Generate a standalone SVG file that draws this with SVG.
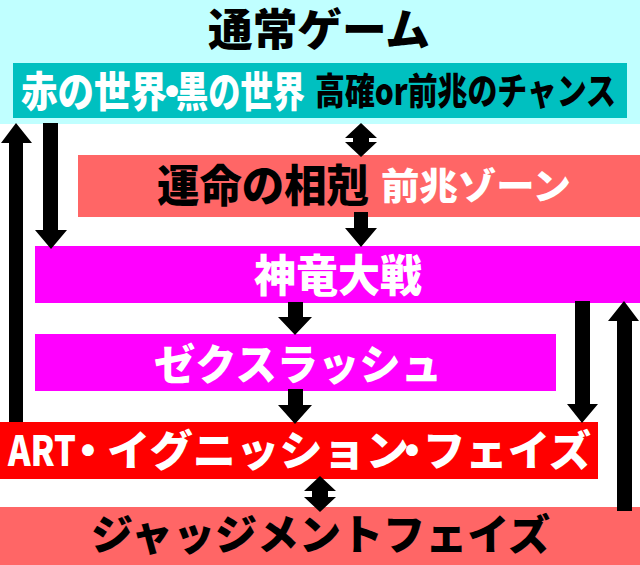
<svg xmlns="http://www.w3.org/2000/svg" width="640" height="565" viewBox="0 0 640 565">
<style>
text{font-family:"Noto Sans CJK JP","Noto Sans",sans-serif;font-weight:900;}
.w{fill:#ffffff;}
.b{fill:#000000;}
.arrow{fill:#000000;}
</style>
<rect width="640" height="565" fill="#ffffff"/>
<g id="normal-game">
<rect x="0" y="0" width="640" height="124" fill="#c0ffff"/>
<text class="b" x="208" y="46" font-size="44" textLength="222" lengthAdjust="spacingAndGlyphs">通常ゲーム</text>
</g>
<g id="world">
<rect x="13" y="63" width="614" height="55" fill="#00c0c0"/>
<text class="w" y="107" font-size="42"><tspan x="21" textLength="146" lengthAdjust="spacingAndGlyphs">赤の世界</tspan><tspan x="151">・</tspan><tspan x="176" textLength="129" lengthAdjust="spacingAndGlyphs">黒の世界</tspan></text>
<text class="b" x="315" y="105" font-size="37" textLength="301" lengthAdjust="spacingAndGlyphs">高確or前兆のチャンス</text>
</g>
<g id="destiny">
<rect x="78" y="155" width="562" height="62" fill="#ff6666"/>
<text class="b" x="157" y="202" font-size="44" textLength="212" lengthAdjust="spacingAndGlyphs">運命の相剋</text>
<text class="w" x="381" y="200" font-size="37" textLength="190" lengthAdjust="spacingAndGlyphs">前兆ゾーン</text>
</g>
<g id="shinryu">
<rect x="35" y="246" width="605" height="57" fill="#ff00ff"/>
<text class="w" x="254" y="292" font-size="44" textLength="168" lengthAdjust="spacingAndGlyphs">神竜大戦</text>
</g>
<g id="zex">
<rect x="35" y="334" width="521" height="57" fill="#ff00ff"/>
<text class="w" x="154" y="380" font-size="42" textLength="288" lengthAdjust="spacingAndGlyphs">ゼクスラッシュ</text>
</g>
<g id="art">
<rect x="0" y="422" width="598" height="57" fill="#ff0000"/>
<text class="w" y="466" font-size="42"><tspan x="8" textLength="68" lengthAdjust="spacingAndGlyphs">ART</tspan><tspan x="67">・</tspan><tspan x="107" textLength="302" lengthAdjust="spacingAndGlyphs">イグニッション</tspan><tspan x="391">・</tspan><tspan x="423" textLength="168" lengthAdjust="spacingAndGlyphs">フェイズ</tspan></text>
</g>
<g id="judgment">
<rect x="0" y="507" width="640" height="58" fill="#ff6666"/>
<text class="b" x="91" y="550" font-size="42" textLength="459" lengthAdjust="spacingAndGlyphs">ジャッジメントフェイズ</text>
</g>
<g id="connectors">
<path class="arrow" d="M16,123 L32,143 L23,143 L23,422 L9,422 L9,143 L1,143 Z"/>
<path class="arrow" d="M43,123 L58,123 L58,230 L67,230 L51,249 L35,230 L43,230 Z"/>
<path class="arrow" d="M361,123 L377,138 L369,138 L369,142 L377,142 L361,157 L345,142 L353,142 L353,138 L345,138 Z"/>
<path class="arrow" d="M354,212 L368,212 L368,228 L377,228 L361,247 L345,228 L354,228 Z"/>
<path class="arrow" d="M288,302 L303,302 L303,317 L312,317 L295,335 L278,317 L288,317 Z"/>
<path class="arrow" d="M288,389 L303,389 L303,405 L312,405 L295,424 L278,405 L288,405 Z"/>
<path class="arrow" d="M575,301 L590,301 L590,404 L598,404 L582,423 L567,404 L575,404 Z"/>
<path class="arrow" d="M624,301 L639,321 L632,321 L632,511 L617,511 L617,321 L608,321 Z"/>
<path class="arrow" d="M320,476 L336,491 L328,491 L328,497 L336,497 L320,512 L304,497 L312,497 L312,491 L304,491 Z"/>
</g>
</svg>
